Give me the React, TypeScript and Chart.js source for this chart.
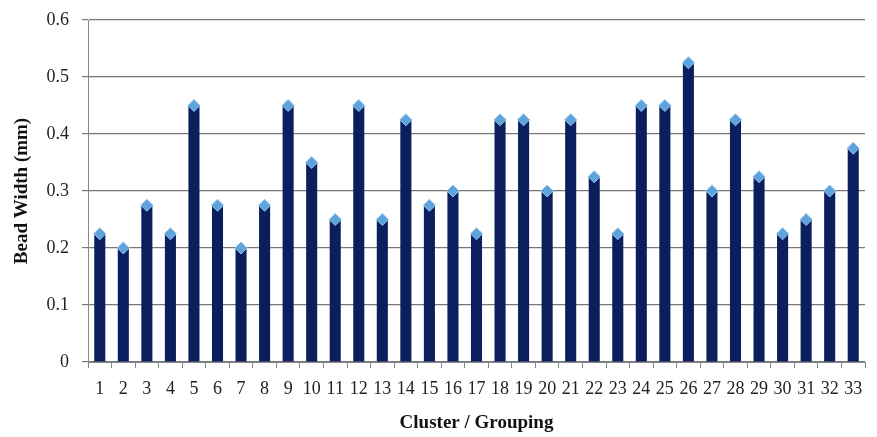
import React, { useEffect, useRef } from "react";
import { Chart, registerables } from "chart.js";

Chart.register(...registerables);

const categories = Array.from({ length: 33 }, (_, i) => String(i + 1));
const beadWidth = [
  0.225, 0.2, 0.275, 0.225, 0.45, 0.275, 0.2, 0.275, 0.45, 0.35, 0.25,
  0.45, 0.25, 0.425, 0.275, 0.3, 0.225, 0.425, 0.425, 0.3, 0.425, 0.325,
  0.225, 0.45, 0.45, 0.525, 0.3, 0.425, 0.325, 0.225, 0.25, 0.3, 0.375,
];
const yTitle = "Bead Width (mm)";
const xTitle = "Cluster / Grouping";

export default function App() {
  const ref = useRef<HTMLCanvasElement>(null);
  useEffect(() => {
    const font = "'Liberation Serif', 'Times New Roman', serif";
    const chart = new Chart(ref.current!, {
      type: "bar",
      data: {
        labels: categories,
        datasets: [
          {
            type: "line",
            data: beadWidth,
            showLine: false,
            pointStyle: "rectRot",
            pointRadius: 6,
            pointBackgroundColor: "#5fa3dc",
            pointBorderColor: "#8cc4ee",
            pointBorderWidth: 1,
            order: 0,
          } as any,
          {
            type: "bar",
            data: beadWidth,
            backgroundColor: "#0b1f5e",
            borderWidth: 0,
            barPercentage: 0.47,
            categoryPercentage: 1,
            order: 1,
          },
        ],
      },
      options: {
        animation: false,
        responsive: false,
        layout: { padding: { top: 20, right: 12, left: 0, bottom: 0 } },
        plugins: { legend: { display: false }, tooltip: { enabled: false } },
        scales: {
          x: {
            afterFit: (s: any) => {
              s.height = 75;
            },
            grid: {
              display: true,
              drawOnChartArea: false,
              drawTicks: true,
              tickLength: 6,
              color: "#888",
              offset: true,
            },
            border: { color: "#888" },
            ticks: {
              color: "#222",
              font: { family: font, size: 18 },
              maxRotation: 0,
              autoSkip: false,
              padding: 10,
            },
            title: {
              display: true,
              text: xTitle,
              color: "#111",
              font: { family: font, size: 19, weight: "bold" },
              padding: { top: 0, bottom: 3 },
            },
          },
          y: {
            afterFit: (s: any) => {
              s.width = 88;
              s.paddingTop = 0;
              s.paddingBottom = 0;
            },
            min: 0,
            max: 0.6,
            ticks: {
              stepSize: 0.1,
              color: "#222",
              font: { family: font, size: 18 },
              padding: 13,
              callback: (v: any) => String(Math.round(Number(v) * 10) / 10),
            },
            grid: { color: "#777", lineWidth: 1.2, tickLength: 6 },
            border: { color: "#888" },
            title: {
              display: true,
              text: yTitle,
              color: "#111",
              font: { family: font, size: 19, weight: "bold" },
              padding: { top: 11, bottom: 0 },
            },
          },
        },
      },
    });
    return () => chart.destroy();
  }, []);
  return (
    <div style={{ position: "fixed", left: 0, top: 0, width: 877, height: 437 }}>
      <canvas ref={ref} width={877} height={437} style={{ display: "block" }} />
    </div>
  );
}
